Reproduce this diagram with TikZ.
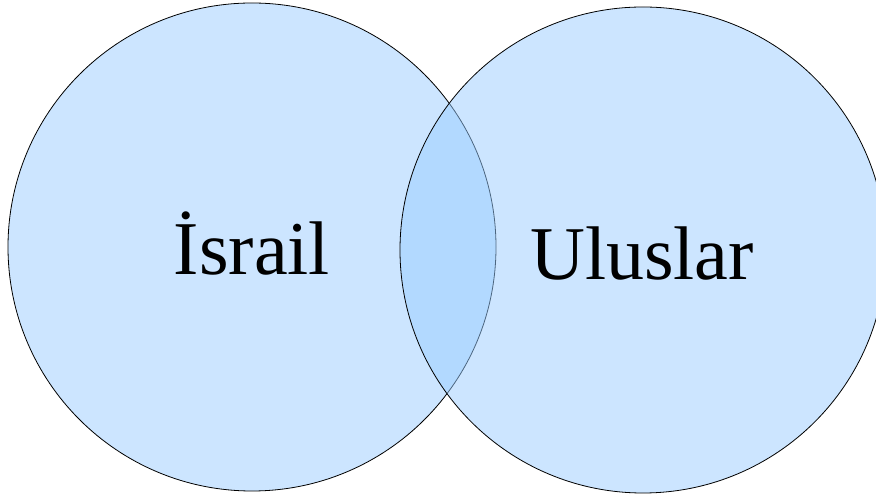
\documentclass[tikz,border=0pt]{standalone}
\usepackage{fontspec}
\setmainfont{Liberation Serif}
\begin{document}
\begin{tikzpicture}[x=1pt,y=1pt,
  setc/.style={circle, draw=black, line width=0.8pt, fill={rgb,255:red,153;green,204;blue,255}, fill opacity=0.5, draw opacity=1, inner sep=0pt},
  lab/.style={font=\fontsize{76}{80}\selectfont, anchor=base, text opacity=1}]
\useasboundingbox (0,0) rectangle (876,497);
\node[setc, minimum size=488pt] (A) at (252,250) {};
\node[setc, minimum size=486pt] (B) at (643,247) {};
\node[lab] (la) at (252,222) {İsrail};
\node[lab] (lb) at (642,217) {Uluslar};
\end{tikzpicture}
\end{document}
